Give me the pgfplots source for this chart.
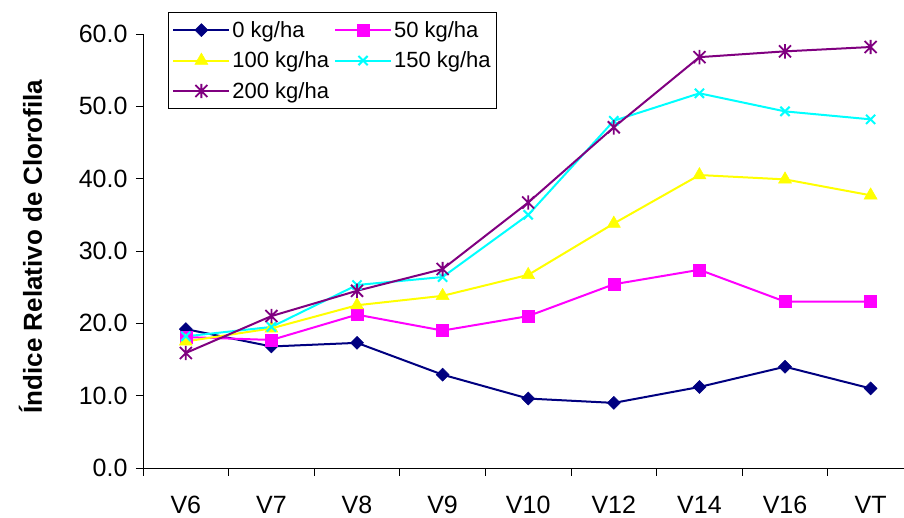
\documentclass[border=0pt]{standalone}
\usepackage{fontspec}
\setmainfont{Liberation Sans}
\usepackage{pgfplots}
\pgfplotsset{compat=1.18}
\definecolor{cnavy}{RGB}{0,0,128}
\definecolor{cmag}{RGB}{255,0,255}
\definecolor{cyel}{RGB}{255,255,0}
\definecolor{ccyan}{RGB}{0,255,255}
\definecolor{cpurp}{RGB}{128,0,128}
\pgfdeclareplotmark{xstar}{%
 \pgfpathmoveto{\pgfqpoint{-\pgfplotmarksize}{-\pgfplotmarksize}}%
 \pgfpathlineto{\pgfqpoint{\pgfplotmarksize}{\pgfplotmarksize}}%
 \pgfpathmoveto{\pgfqpoint{-\pgfplotmarksize}{\pgfplotmarksize}}%
 \pgfpathlineto{\pgfqpoint{\pgfplotmarksize}{-\pgfplotmarksize}}%
 \pgfpathmoveto{\pgfqpoint{0pt}{-1.2\pgfplotmarksize}}%
 \pgfpathlineto{\pgfqpoint{0pt}{1.2\pgfplotmarksize}}%
 \pgfusepathqstroke}
\pgfdeclareplotmark{sdiamond}{%
 \pgfpathmoveto{\pgfqpoint{0pt}{\pgfplotmarksize}}%
 \pgfpathlineto{\pgfqpoint{\pgfplotmarksize}{0pt}}%
 \pgfpathlineto{\pgfqpoint{0pt}{-\pgfplotmarksize}}%
 \pgfpathlineto{\pgfqpoint{-\pgfplotmarksize}{0pt}}%
 \pgfpathclose
 \pgfusepathqfillstroke}
\begin{document}
\begin{tikzpicture}
\begin{axis}[
 scale only axis, width=761pt, height=434pt,
 xmin=-0.5, xmax=8.39, ymin=0, ymax=60,
 axis x line*=bottom, axis y line*=left,
 axis line style={-, black, line width=0.8pt},
 xtick={0,...,8}, xticklabels={V6,V7,V8,V9,V10,V12,V14,V16,VT},
 minor xtick={-0.5,0.5,...,7.5},
 ytick={0,10,...,60},
 tick align=outside,
 major tick length=7pt, minor tick length=8pt,
 tick style={black, line width=0.8pt},
 major x tick style={draw=none},
 /pgf/number format/fixed, /pgf/number format/fixed zerofill, /pgf/number format/precision=1,
 /pgf/number format/assume math mode=true,
 ticklabel style={font=\fontsize{25}{29}\selectfont},
 xticklabel style={anchor=base, inner sep=0.5pt, text depth=0pt, yshift=-39pt},
 yticklabel style={xshift=-5pt},
 ylabel={Índice Relativo de Clorofila},
 ylabel style={at={(axis description cs:-0.148,0.51)}, anchor=center, font=\bfseries\fontsize{26}{30}\selectfont},
 clip=false,
 legend columns=2, legend cell align=left,
 legend style={at={(axis description cs:0,1)}, anchor=north west, xshift=25pt, yshift=22pt,
   draw=black, line width=0.8pt, font=\fontsize{22}{26}\selectfont, inner xsep=4pt, inner ysep=7pt,
   row sep=9pt, /tikz/every even column/.append style={column sep=3pt}},
 legend image code/.code={\draw[mark repeat=2, mark phase=2] plot coordinates {(0pt,0pt) (28pt,0pt) (56pt,0pt)};},
 every axis plot/.append style={line width=2pt},
]
\addplot[cnavy, mark=sdiamond, mark size=6.5pt, mark options={solid, line width=0.5pt}] coordinates {
(0,19.2) (1,16.8) (2,17.3) (3,12.9) (4,9.6) (5,9.0) (6,11.2) (7,14.0) (8,11.0)};
\addlegendentry{0 kg/ha}
\addplot[cmag, mark=square*, mark size=6pt, mark options={solid, line width=0.5pt}] coordinates {
(0,18.1) (1,17.7) (2,21.2) (3,19.0) (4,21.0) (5,25.4) (6,27.4) (7,23.0) (8,23.0)};
\addlegendentry{50 kg/ha}
\addplot[cyel, mark=triangle*, mark size=7.5pt, mark options={solid, line width=0.5pt}] coordinates {
(0,17.5) (1,19.3) (2,22.5) (3,23.8) (4,26.7) (5,33.8) (6,40.5) (7,39.9) (8,37.7)};
\addlegendentry{100 kg/ha}
\addplot[ccyan, mark=x, mark size=6.5pt, mark options={solid, line width=2pt}] coordinates {
(0,18.2) (1,19.5) (2,25.3) (3,26.4) (4,35.0) (5,48.0) (6,51.8) (7,49.3) (8,48.2)};
\addlegendentry{150 kg/ha}
\addplot[cpurp, mark=xstar, mark size=6pt, mark options={solid, line width=1.8pt}] coordinates {
(0,15.9) (1,21.0) (2,24.5) (3,27.5) (4,36.7) (5,47.1) (6,56.8) (7,57.6) (8,58.2)};
\addlegendentry{200 kg/ha}
\end{axis}
\pgfresetboundingbox
\useasboundingbox (-143pt,-50pt) rectangle (761pt,468pt);
\end{tikzpicture}
\end{document}
